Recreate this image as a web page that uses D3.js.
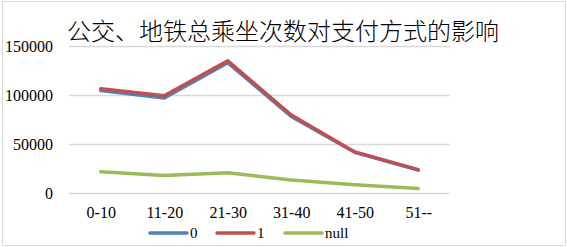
<!DOCTYPE html>
<html>
<head>
<meta charset="utf-8">
<script src="https://cdn.jsdelivr.net/npm/d3@7"></script>
<style>
  body { margin: 0; background: #fff; }
  svg text { font-family: "Liberation Serif", "DejaVu Serif", "Noto Serif", serif; fill: #000; }
</style>
</head>
<body>
<div id="chart"></div>
<script>
var categories = ["0-10", "11-20", "21-30", "31-40", "41-50", "51--"];
var seriesNames = ["0", "1", "null"];
var seriesColors = ["#4F81BD", "#C0504D", "#9BBB59"];
var values0 = [104500, 97000, 133000, 78200, 41600, 23300];
var values1 = [106500, 99300, 134800, 79600, 41900, 23800];
var valuesNull = [21700, 17800, 20700, 13300, 8500, 4500];
var yTicks = [0, 50000, 100000, 150000];
var title = "公交、地铁总乘坐次数对支付方式的影响";

var serifFont = '"Liberation Serif", "DejaVu Serif", "Noto Serif", serif';

var W = 567, H = 247;
var margin = {top: 46, right: 117, bottom: 54, left: 69},
    width = W - margin.left - margin.right,
    height = H - margin.top - margin.bottom;

var svg = d3.select("#chart")
  .append("svg")
    .attr("width", W)
    .attr("height", H);

// outer chart border
svg.append("rect")
    .attr("x", 2.5).attr("y", 1.5)
    .attr("width", 563).attr("height", 244)
    .attr("fill", "#fff")
    .attr("stroke", "#D9D9D9");

var g = svg.append("g")
    .attr("transform", "translate(" + margin.left + "," + margin.top + ")");

var x = d3.scalePoint()
    .domain(categories)
    .range([0, width])
    .padding(0.5);

var y = d3.scaleLinear()
    .domain([0, 150000])
    .range([height, 0]);

// gridlines
g.append("g")
  .selectAll("line")
  .data(yTicks)
  .enter()
  .append("line")
    .attr("x1", 0)
    .attr("x2", width)
    .attr("y1", function(d) { return Math.round(y(d)) + 0.5; })
    .attr("y2", function(d) { return Math.round(y(d)) + 0.5; })
    .attr("stroke", "#D9D9D9")
    .attr("stroke-width", 1.3);

// y labels
var yAxis = g.append("g")
    .call(d3.axisLeft(y).tickValues(yTicks).tickSize(0).tickPadding(16).tickFormat(d3.format("d")))
    .attr("font-family", serifFont)
    .attr("font-size", 16);
yAxis.select(".domain").remove();
yAxis.selectAll("text")
    .attr("fill", "#000");

// x labels
var xAxis = g.append("g")
    .attr("transform", "translate(0," + height + ")")
    .call(d3.axisBottom(x).tickSize(0).tickPadding(14))
    .attr("font-family", serifFont)
    .attr("font-size", 16);
xAxis.select(".domain").remove();
xAxis.selectAll("text")
    .attr("fill", "#000");

var series = [values0, values1, valuesNull];

var line = d3.line()
    .x(function(d, i) { return x(categories[i]); })
    .y(function(d) { return y(d); });

// draw null first, then 0, then 1 on top
[2, 0, 1].forEach(function(k) {
  g.append("path")
    .datum(series[k])
    .attr("fill", "none")
    .attr("stroke", seriesColors[k])
    .attr("stroke-width", 3.5)
    .attr("stroke-linejoin", "round")
    .attr("stroke-linecap", "round")
    .attr("d", line);
});

// title
svg.append("text")
    .text(title)
    .attr("x", 283)
    .attr("y", 40)
    .attr("text-anchor", "middle")
    .style("font-family", "'Noto Sans CJK SC', sans-serif")
    .style("font-weight", 300)
    .style("font-size", "24px");

// legend
var legendX = [150, 217, 285];
var legend = svg.append("g");
seriesNames.forEach(function(name, i) {
  legend.append("line")
    .attr("x1", legendX[i]).attr("x2", legendX[i] + 37)
    .attr("y1", 233).attr("y2", 233)
    .attr("stroke", seriesColors[i])
    .attr("stroke-width", 3.5)
    .attr("stroke-linecap", "round");
  legend.append("text")
    .text(name)
    .attr("x", legendX[i] + 40)
    .attr("y", 238)
    .attr("font-family", serifFont)
    .attr("font-size", 15);
});
</script>
</body>
</html>
